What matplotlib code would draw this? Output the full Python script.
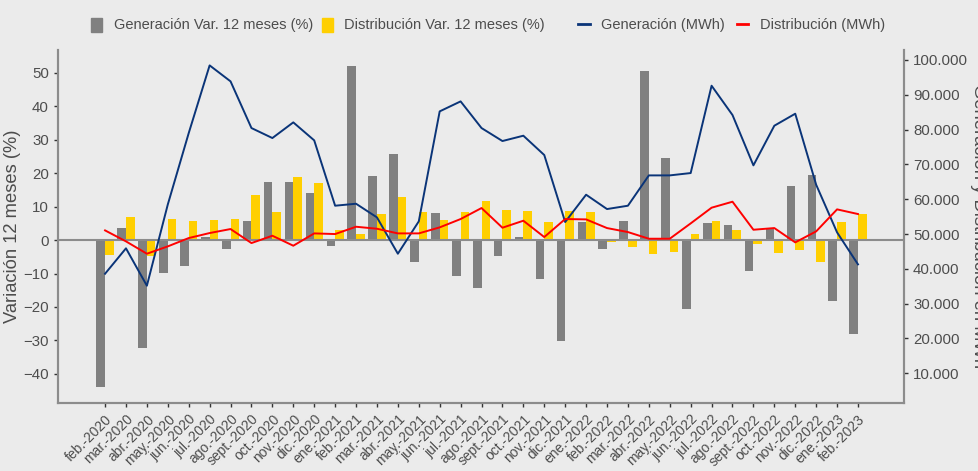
import numpy as np
import matplotlib.pyplot as plt
from matplotlib.patches import Patch
from matplotlib.lines import Line2D
from matplotlib.ticker import FuncFormatter

plt.rcParams['font.family'] = ['Liberation Sans', 'DejaVu Sans']

# --- datos ---
meses = ['feb.', 'mar.', 'abr.', 'may.', 'jun.', 'jul.', 'ago.', 'sept.', 'oct.', 'nov.', 'dic.', 'ene.']
anios = [2020] * 11 + [2021] * 12 + [2022] * 12 + [2023] * 2
etiquetas = [f'{meses[i % 12]}-{a}' for i, a in enumerate(anios)]

gen_var = [-43.8, 3.7, -32.2, -9.8, -7.8, 1.0, -2.7, 5.7, 17.4, 17.3, 14.2,
           -1.8, 52.1, 19.2, 25.8, -6.7, 8.0, -10.7, -14.4, -4.8, 0.8, -11.6, -30.3,
           5.4, -2.6, 5.8, 50.4, 24.4, -20.7, 5.0, 4.5, -9.2, 3.3, 16.2, 19.3,
           -18.1, -28.1]
dis_var = [-4.4, 6.8, -4.7, 6.4, 5.7, 5.9, 6.2, 13.4, 8.5, 18.7, 17.0,
           2.9, 1.9, 7.9, 12.9, 8.4, 6.0, 8.4, 11.7, 8.9, 8.7, 5.4, 8.6,
           8.5, -0.7, -2.0, -4.3, -3.5, 1.8, 5.6, 3.0, -1.3, -3.8, -2.9, -6.7,
           5.4, 7.7]
gen_mwh = [38600, 45900, 35160, 58500, 79000, 98450, 93860, 80450, 77580, 82080, 76910,
           58140, 58710, 54790, 44350, 53640, 85240, 88110, 80450, 76720, 78250, 72700, 53450,
           61300, 57180, 58140, 66850, 66850, 67520, 92610, 84190, 69730, 81120, 84570, 64170,
           50480, 41290]
dis_mwh = [51050, 47900, 44350, 46460, 48850, 50290, 51440, 47410, 49520, 46650, 50190,
           50000, 52100, 51530, 50190, 50190, 51920, 54310, 57470, 51820, 53830, 49140, 54310,
           54210, 51720, 50570, 48660, 48660, 53060, 57570, 59290, 51240, 51720, 47610, 50770,
           57090, 55750]

gris = '#808080'
amarillo = '#FFCF00'
azul = '#0A3478'
rojo = '#FF0000'
fondo = '#EBEBEB'
texto = '#4D4D4D'

fig = plt.figure(figsize=(9.79, 4.71), dpi=100, facecolor=fondo)
ax = fig.add_axes([58 / 979, 1 - 403 / 471, (904 - 58) / 979, (403 - 50) / 471])
ax.set_facecolor(fondo)

x = np.arange(len(etiquetas))
w = 0.41
ax.bar(x - w / 2, gen_var, width=w, color=gris, zorder=2)
ax.bar(x + w / 2, dis_var, width=w, color=amarillo, zorder=2)
ax.axhline(0, color='#8C8C8C', linewidth=1.5, zorder=3)

ax.set_xlim(-2.25, 38.2)
ax.set_ylim(-48.7, 56.8)
ax.set_yticks(np.arange(-40, 51, 10))
ax.set_xticks(x)
ax.set_xticklabels(etiquetas, rotation=45, ha='right', rotation_mode='anchor', color=texto)
ax.set_ylabel('Variación 12 meses (%)', fontsize=13.2, color=texto, labelpad=2)

ax2 = ax.twinx()
ax2.plot(x, gen_mwh, color=azul, linewidth=1.4, zorder=4)
ax2.plot(x, dis_mwh, color=rojo, linewidth=1.4, zorder=4)
ax2.set_ylim(1470, 102870)
ax2.set_yticks(np.arange(10000, 100001, 10000))
ax2.yaxis.set_major_formatter(FuncFormatter(lambda v, p: f'{int(v):,}'.replace(',', '.')))

for a in (ax, ax2):
    for s in a.spines.values():
        s.set_color('#8C8C8C')
        s.set_linewidth(1.5)
    a.spines['top'].set_visible(False)
    a.tick_params(colors='#333333', labelcolor=texto, labelsize=10.8, length=3, width=1)
ax.tick_params(axis='x', labelsize=10)

# etiqueta del eje derecho (recortada por el borde, como en el original)
fig.text(0.9995, (1 - 50 / 471 + 1 - 403 / 471) / 2, 'Generación y Distribución en MWh',
         rotation=270, ha='center', va='center', fontsize=13.2, color=texto)

h1 = [Patch(color=gris), Patch(color=amarillo)]
l1 = ['Generación Var. 12 meses (%)', 'Distribución Var. 12 meses (%)']
h2 = [Line2D([], [], color=azul, linewidth=2), Line2D([], [], color=rojo, linewidth=2)]
l2 = ['Generación (MWh)', 'Distribución (MWh)']
leg1 = fig.legend(h1, l1, loc='center left', bbox_to_anchor=(91 / 979, 1 - 25 / 471), ncol=2,
                  frameon=False, fontsize=10.5, handlelength=0.75, handleheight=1.1,
                  handletextpad=0.8, columnspacing=0.6, borderaxespad=0, borderpad=0)
leg2 = fig.legend(h2, l2, loc='center left', bbox_to_anchor=(578 / 979, 1 - 25 / 471), ncol=2,
                  frameon=False, fontsize=10.5, handlelength=0.8,
                  handletextpad=0.8, columnspacing=0.8, borderaxespad=0, borderpad=0)
for t in leg1.get_texts() + leg2.get_texts():
    t.set_color(texto)

fig.savefig('out.png', dpi=100, facecolor=fondo)
